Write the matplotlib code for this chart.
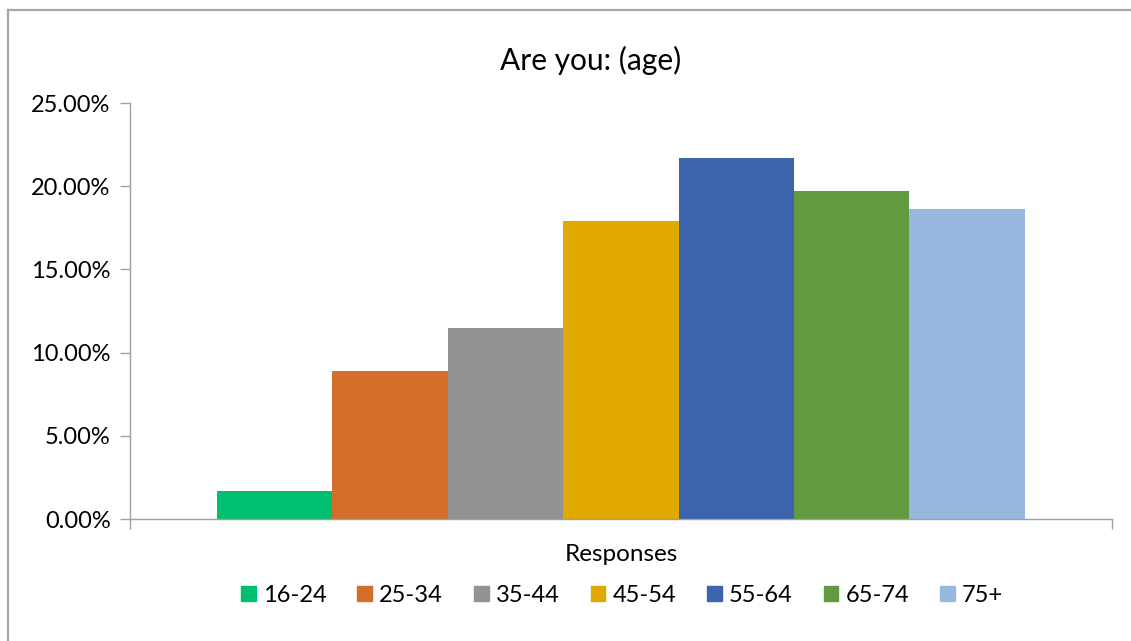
import matplotlib
matplotlib.use("Agg")
import matplotlib.pyplot as plt
import matplotlib.patches as mpatches
from matplotlib.lines import Line2D
from matplotlib.ticker import FuncFormatter

# Age bands and share of responses (%)
AGE_GROUPS = ["16-24", "25-34", "35-44", "45-54", "55-64", "65-74", "75+"]
SHARES = [1.66, 8.90, 11.48, 17.90, 21.69, 19.70, 18.63]
COLORS = ["#00BF6F", "#D36F2A", "#939393", "#E1A800",
          "#3C64AC", "#629B3F", "#97B8DE"]
CATEGORY = "Responses"
TITLE = "Are you: (age)"
Y_TICKS = [0, 5, 10, 15, 20, 25]

plt.rcParams['font.family'] = ['Lato', 'DejaVu Sans']

fig = plt.figure(figsize=(11.31, 6.41), dpi=100)
ax = fig.add_axes([0.1149, 0.1903, 0.8683, 0.6490])

n = len(AGE_GROUPS)
for i, (lab, val, col) in enumerate(zip(AGE_GROUPS, SHARES, COLORS)):
    ax.bar(i - (n - 1) / 2, val, width=1.0, color=col, label=lab,
           linewidth=0)

half = 4.255
ax.set_xlim(-half, half)
ax.set_ylim(0, 25)
ax.set_yticks(Y_TICKS)
ax.yaxis.set_major_formatter(FuncFormatter(lambda v, _: f"{v:.2f}%"))

ax.set_xticks([0])
ax.set_xticklabels([CATEGORY])
ax.set_xticks([-half, half], minor=True)
ax.tick_params(axis='x', which='major', length=0, pad=18, labelsize=17.5)
ax.tick_params(axis='x', which='minor', length=7, color='#a0a0a0', width=1)
ax.tick_params(axis='y', length=7, color='#a0a0a0', width=1, labelsize=17,
               pad=7)

for side in ('top', 'right'):
    ax.spines[side].set_visible(False)
for side in ('left', 'bottom'):
    ax.spines[side].set_color('#a0a0a0')
    ax.spines[side].set_linewidth(1)

fig.text(0.522, 0.906, TITLE, ha='center', va='center', fontsize=21.5)

handles = [mpatches.Patch(color=c, label=l) for c, l in zip(COLORS, AGE_GROUPS)]
fig.legend(handles=handles, loc='center', bbox_to_anchor=(0.55, 0.071),
           ncol=n, frameon=False, fontsize=17, handlelength=0.62,
           handleheight=0.62, handletextpad=0.3, columnspacing=1.32)

# chart area frame (top and left edges)
fig.add_artist(Line2D([8 / 1131, 1], [1 - 9.5 / 641] * 2, color='#a6a6a6',
                      lw=1.6, transform=fig.transFigure))
fig.add_artist(Line2D([8 / 1131] * 2, [0, 1 - 9.5 / 641], color='#a6a6a6',
                      lw=1.6, transform=fig.transFigure))

fig.savefig("out.png", dpi=100)
